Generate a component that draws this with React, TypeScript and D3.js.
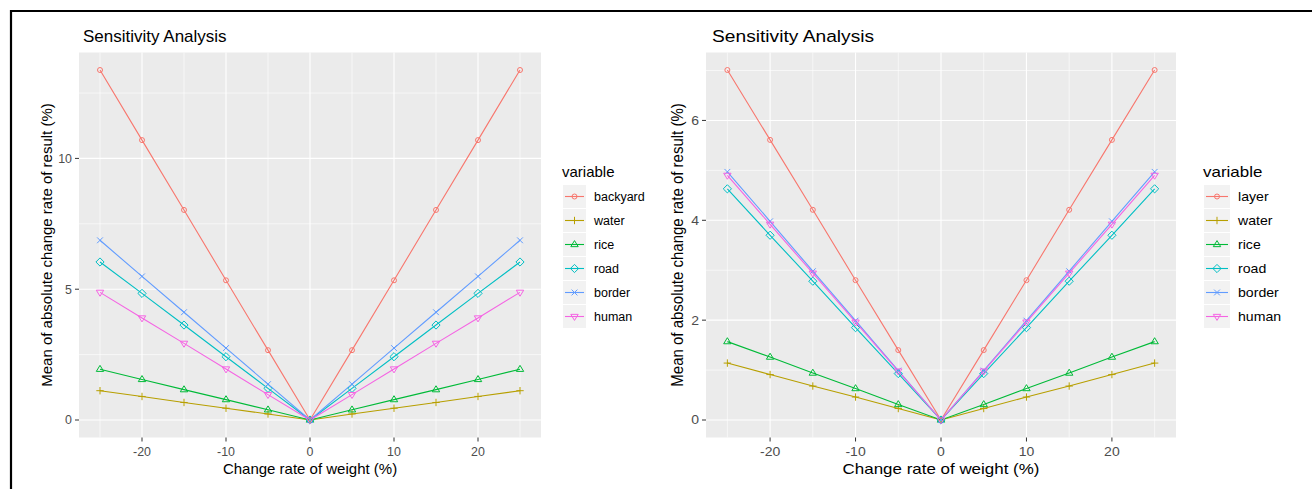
import React from 'react';
import * as d3 from 'd3';

const W = 1312;
const H = 489;
const FONT = '"Liberation Sans", Arial, Helvetica, sans-serif';

// x values shared by both charts
const changeRate = [-25, -20, -15, -10, -5, 0, 5, 10, 15, 20, 25];

// left chart
const leftNames = ['backyard', 'water', 'rice', 'road', 'border', 'human'];
const backyardLeft = [13.38, 10.7, 8.03, 5.34, 2.67, 0, 2.67, 5.34, 8.03, 10.7, 13.38];
const waterLeft = [1.12, 0.9, 0.67, 0.45, 0.23, 0, 0.23, 0.45, 0.67, 0.9, 1.12];
const riceLeft = [1.94, 1.55, 1.16, 0.78, 0.39, 0, 0.39, 0.78, 1.16, 1.55, 1.94];
const roadLeft = [6.04, 4.84, 3.63, 2.42, 1.21, 0, 1.21, 2.42, 3.63, 4.84, 6.04];
const borderLeft = [6.87, 5.49, 4.12, 2.75, 1.37, 0, 1.37, 2.75, 4.12, 5.49, 6.87];
const humanLeft = [4.88, 3.9, 2.93, 1.95, 0.97, 0, 0.97, 1.95, 2.93, 3.9, 4.88];

// right chart
const rightNames = ['layer', 'water', 'rice', 'road', 'border', 'human'];
const layerRight = [7.01, 5.61, 4.21, 2.8, 1.4, 0, 1.4, 2.8, 4.21, 5.61, 7.01];
const waterRight = [1.14, 0.91, 0.68, 0.46, 0.23, 0, 0.23, 0.46, 0.68, 0.91, 1.14];
const riceRight = [1.57, 1.26, 0.94, 0.63, 0.31, 0, 0.31, 0.63, 0.94, 1.26, 1.57];
const roadRight = [4.63, 3.7, 2.78, 1.85, 0.93, 0, 0.93, 1.85, 2.78, 3.7, 4.63];
const borderRight = [4.97, 3.98, 2.98, 1.99, 0.99, 0, 0.99, 1.99, 2.98, 3.98, 4.97];
const humanRight = [4.9, 3.92, 2.94, 1.96, 0.98, 0, 0.98, 1.96, 2.94, 3.92, 4.9];

// ggplot default hue palette, one per variable
const seriesColors = ['#F8766D', '#B79F00', '#00BA38', '#00BFC4', '#619CFF', '#F564E3'];
const shapes = ['circle', 'plus', 'triangle', 'diamond', 'cross', 'triangleDown'];

function Marker({ shape, x, y, color }) {
    const common = { fill: 'none', stroke: color, strokeWidth: 1 };
    if (shape === 'circle') return <circle cx={x} cy={y} r={2.5} {...common} />;
    if (shape === 'plus') {
        const s = 3.7;
        return <path d={`M${x - s},${y}H${x + s}M${x},${y - s}V${y + s}`} {...common} />;
    }
    if (shape === 'cross') {
        const s = 2.9;
        return <path d={`M${x - s},${y - s}L${x + s},${y + s}M${x - s},${y + s}L${x + s},${y - s}`} {...common} />;
    }
    if (shape === 'diamond') {
        const s = 4.1;
        return <path d={`M${x},${y - s}L${x + s},${y}L${x},${y + s}L${x - s},${y}Z`} {...common} />;
    }
    const s = 3.9;
    const dir = shape === 'triangle' ? 1 : -1;
    const tip = y - dir * s;
    const base = y + dir * s * 0.55;
    return <path d={`M${x},${tip}L${x + s * 0.95},${base}L${x - s * 0.95},${base}Z`} {...common} />;
}

// small helper so the text can be stretched horizontally like the source image
function Label({ x, y, sx = 1, rotate = 0, anchor = 'start', size, color = '#000', children }) {
    return (
        <text
            transform={`translate(${x},${y}) scale(${sx},1)${rotate ? ` rotate(${rotate})` : ''}`}
            textAnchor={anchor}
            fontSize={size}
            fill={color}
            fontFamily={FONT}
        >
            {children}
        </text>
    );
}

function Panel({ names, series, box }) {
    const { x0, x1, y0, y1, sx } = box;

    const yMax = d3.max(series, (s) => d3.max(s));
    const pad = yMax * 0.05;
    const xScale = d3.scaleLinear().domain([-27.5, 27.5]).range([x0, x1]);
    const yScale = d3.scaleLinear().domain([-pad, yMax + pad]).range([y1, y0]);

    const xTicks = xScale.ticks(5);
    const yTicks = yScale.ticks(4);
    const xStep = xTicks[1] - xTicks[0];
    const yStep = yTicks[1] - yTicks[0];
    const [xd0, xd1] = xScale.domain();
    const [yd0, yd1] = yScale.domain();
    const xMinor = d3.range(xTicks[0] - xStep * 1.5, xd1, xStep).filter((v) => v > xd0);
    const yMinor = d3.range(yTicks[0] - yStep * 1.5, yd1, yStep).filter((v) => v > yd0);

    const line = d3.line()
        .x((d) => xScale(d[0]))
        .y((d) => yScale(d[1]));

    const midX = (x0 + x1) / 2;
    const midY = (y0 + y1) / 2;

    return (
        <g>
            <rect x={x0} y={y0} width={x1 - x0} height={y1 - y0} fill="#EBEBEB" />
            {xMinor.map((v) => (
                <line key={'xm' + v} x1={xScale(v)} x2={xScale(v)} y1={y0} y2={y1} stroke="#fff" strokeWidth={0.6} />
            ))}
            {yMinor.map((v) => (
                <line key={'ym' + v} x1={x0} x2={x1} y1={yScale(v)} y2={yScale(v)} stroke="#fff" strokeWidth={0.6} />
            ))}
            {xTicks.map((v) => (
                <line key={'xg' + v} x1={xScale(v)} x2={xScale(v)} y1={y0} y2={y1} stroke="#fff" strokeWidth={1.1} />
            ))}
            {yTicks.map((v) => (
                <line key={'yg' + v} x1={x0} x2={x1} y1={yScale(v)} y2={yScale(v)} stroke="#fff" strokeWidth={1.1} />
            ))}

            {series.map((vals, i) => (
                <path
                    key={'l' + i}
                    d={line(changeRate.map((c, j) => [c, vals[j]]))}
                    fill="none"
                    stroke={seriesColors[i]}
                    strokeWidth={1.1}
                />
            ))}
            {series.map((vals, i) =>
                changeRate.map((c, j) => (
                    <Marker key={'p' + i + '-' + j} shape={shapes[i]} x={xScale(c)} y={yScale(vals[j])} color={seriesColors[i]} />
                ))
            )}

            {/* axes */}
            {xTicks.map((v) => (
                <g key={'xt' + v}>
                    <line x1={xScale(v)} x2={xScale(v)} y1={y1} y2={y1 + 4} stroke="#333" strokeWidth={1} />
                    <Label x={xScale(v)} y={456} sx={sx} anchor="middle" size={12.4} color="#4D4D4D">{v}</Label>
                </g>
            ))}
            {yTicks.map((v) => (
                <g key={'yt' + v}>
                    <line x1={x0 - 4} x2={x0} y1={yScale(v)} y2={yScale(v)} stroke="#333" strokeWidth={1} />
                    <Label x={x0 - 7} y={yScale(v) + 4.4} sx={sx} anchor="end" size={12.4} color="#4D4D4D">{v}</Label>
                </g>
            ))}

            <Label x={midX} y={474} sx={sx} anchor="middle" size={15}>Change rate of weight (%)</Label>
            <Label x={box.yTitleX} y={midY} sx={sx} rotate={-90} anchor="middle" size={15}>
                Mean of absolute change rate of result (%)
            </Label>
            <Label x={box.titleX} y={42} sx={sx} size={17}>Sensitivity Analysis</Label>

            {/* legend */}
            <Label x={box.legendX} y={177} sx={sx} size={15}>variable</Label>
            {names.map((name, i) => {
                const ky = 185 + i * 24;
                const kx = box.legendX + 1;
                const cy = ky + 11.5;
                return (
                    <g key={'lg' + name}>
                        <rect x={kx} y={ky} width={box.keyW} height={23} fill="#F2F2F2" />
                        <line x1={kx + 2} x2={kx + box.keyW - 2} y1={cy} y2={cy} stroke={seriesColors[i]} strokeWidth={1.1} />
                        <Marker shape={shapes[i]} x={kx + box.keyW / 2} y={cy} color={seriesColors[i]} />
                        <Label x={box.labelX} y={cy + 4.4} sx={sx} size={12.5}>{name}</Label>
                    </g>
                );
            })}
        </g>
    );
}

const leftBox = { x0: 79, x1: 541, y0: 52.5, y1: 437.5, sx: 1, titleX: 83, yTitleX: 52, legendX: 562, keyW: 23, labelX: 594 };
const rightBox = { x0: 706, x1: 1176, y0: 52.5, y1: 437.5, sx: 1.13, titleX: 712, yTitleX: 683, legendX: 1203, keyW: 26, labelX: 1238 };

export default function App() {
    return (
        <svg width={W} height={H} style={{ position: 'fixed', left: 0, top: 0, background: '#fff' }}>
            <rect x={0} y={0} width={W} height={H} fill="#fff" />
            <Panel
                names={leftNames}
                series={[backyardLeft, waterLeft, riceLeft, roadLeft, borderLeft, humanLeft]}
                box={leftBox}
            />
            <Panel
                names={rightNames}
                series={[layerRight, waterRight, riceRight, roadRight, borderRight, humanRight]}
                box={rightBox}
            />
            {/* frame of the screenshot */}
            <path d={`M11,${H}V11H${W}`} fill="none" stroke="#000" strokeWidth={2.2} />
        </svg>
    );
}
